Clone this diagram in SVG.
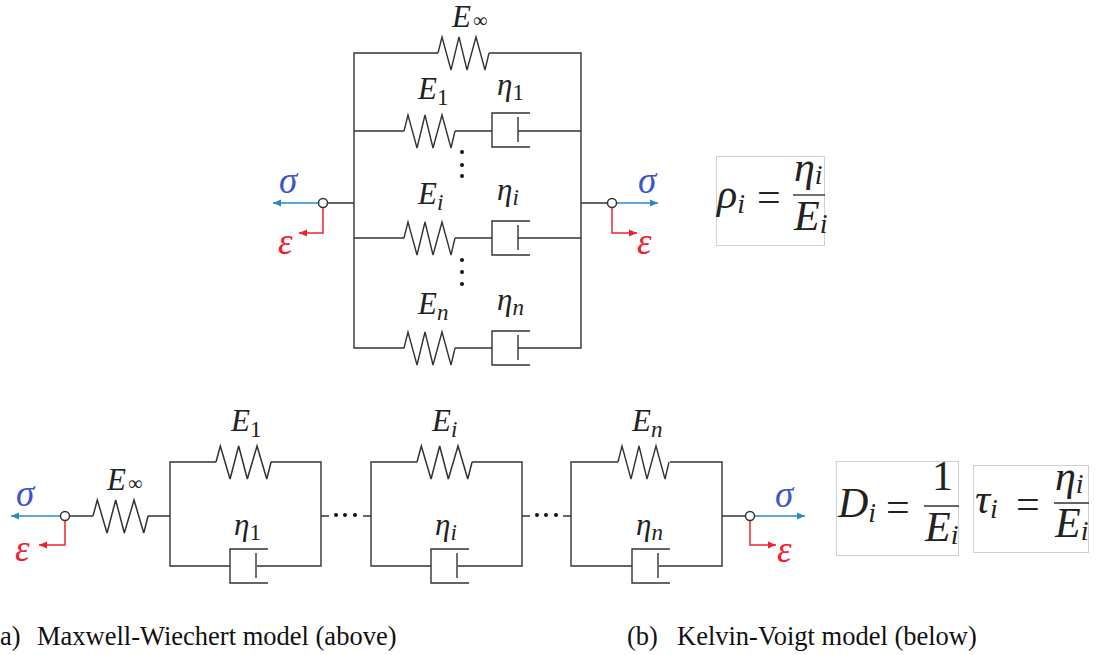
<svg xmlns="http://www.w3.org/2000/svg" width="1096" height="655" viewBox="0 0 1096 655">
<style>
text{font-family:"Liberation Serif",serif;fill:#222}
.w{fill:none;stroke:#333;stroke-width:1.4}
.l{font-style:italic;font-size:31px}
.f{font-style:italic;font-size:42px}
.fs{font-style:italic;font-size:28px}
.n{font-size:42px}
.sig{font-style:italic;font-size:37px;fill:#3d55c8}
.eps{font-style:italic;font-size:37px;fill:#f0232d}
.b{fill:none;stroke:#2b88cc;stroke-width:1.5}
.r{fill:none;stroke:#f0232d;stroke-width:1.5}
.c{fill:#fff;stroke:#333;stroke-width:1.5}
.box{fill:#fff;stroke:#d0d0d0;stroke-width:1}
.d{fill:#111}
.cap{font-size:26.5px;fill:#111}
</style>
<defs>
<polyline id="spring" class="w" points="0,0 4,-16 13,17 21,-16 29,17 38,-16 47,17 51,0"/>
<g id="dash"><path class="w" d="M38,-17H0V17H38M26,-13V12"/></g>
<marker id="ab" markerWidth="9" markerHeight="8" refX="8" refY="4" orient="auto" markerUnits="userSpaceOnUse"><path d="M0,0.5L8,4L0,7.5z" fill="#2b88cc"/></marker>
<marker id="ar" markerWidth="9" markerHeight="8" refX="8" refY="4" orient="auto" markerUnits="userSpaceOnUse"><path d="M0,0.5L8,4L0,7.5z" fill="#f0232d"/></marker>
</defs>

<g id="connectors">
<path class="w" d="M438,53H354V348H404M489,53H581V348H530M354,131H404M455,131H492M518,131H581M354,238H404M455,238H492M518,238H581M455,348H492M518,348H530M327,203H354M581,203H608"/>
<path class="w" d="M70,516H93M148,516H170M170,516V462H216M271,462H321V566H257M170,516V566H230M321,516H329M363,516H371M371,516V462H417M472,462H522V566H458M371,516V566H431M522,516H530M563,516H571M571,516V462H618M670,462H722V566H659M571,516V566H632M722,516H745"/>
<path class="b" marker-end="url(#ab)" d="M319,203H273"/>
<path class="r" marker-end="url(#ar)" d="M323,208V233H299"/>
<path class="b" marker-end="url(#ab)" d="M616,203H658"/>
<path class="r" marker-end="url(#ar)" d="M612,208V233H637"/>
<path class="b" marker-end="url(#ab)" d="M61,516H11"/>
<path class="r" marker-end="url(#ar)" d="M65,521V545H39"/>
<path class="b" marker-end="url(#ab)" d="M755,516H805"/>
<path class="r" marker-end="url(#ar)" d="M750,521V545H776"/>
</g>

<g id="spring-top-inf"><use href="#spring" transform="translate(438,53)"/><text class="l" x="452" y="27">E<tspan font-style="normal" font-size="20" dx="2">∞</tspan></text></g>
<g id="spring-top-1"><use href="#spring" transform="translate(404,131)"/><text class="l" x="418" y="99">E<tspan font-size="23" font-style="normal" dy="6">1</tspan></text></g>
<g id="dash-top-1"><use href="#dash" transform="translate(492,130)"/><text class="l" x="497" y="95">η<tspan font-size="23" font-style="normal" dy="5">1</tspan></text></g>
<g id="spring-top-i"><use href="#spring" transform="translate(404,238)"/><text class="l" x="418" y="204">E<tspan font-size="23" dy="6">i</tspan></text></g>
<g id="dash-top-i"><use href="#dash" transform="translate(492,238)"/><text class="l" x="497" y="200">η<tspan font-size="23" dy="5">i</tspan></text></g>
<g id="spring-top-n"><use href="#spring" transform="translate(404,348)"/><text class="l" x="418" y="314">E<tspan font-size="23" dy="6">n</tspan></text></g>
<g id="dash-top-n"><use href="#dash" transform="translate(492,348)"/><text class="l" x="497" y="310">η<tspan font-size="23" dy="5">n</tspan></text></g>
<g id="dots-top-1"><circle class="d" cx="462" cy="152" r="2"/><circle class="d" cx="462" cy="165" r="2"/><circle class="d" cx="462" cy="176" r="2"/></g>
<g id="dots-top-2"><circle class="d" cx="462" cy="260" r="2"/><circle class="d" cx="462" cy="272" r="2"/><circle class="d" cx="462" cy="284" r="2"/></g>
<g id="term-top-left"><circle class="c" cx="323" cy="203" r="4.5"/><text class="sig" x="279" y="193">σ</text><text class="eps" x="278" y="254">ε</text></g>
<g id="term-top-right"><circle class="c" cx="612" cy="203" r="4.5"/><text class="sig" x="638" y="193">σ</text><text class="eps" x="637" y="254">ε</text></g>

<g id="spring-bot-inf"><use href="#spring" transform="translate(93,516) scale(1.08,1)"/><text class="l" x="107" y="490">E<tspan font-style="normal" font-size="20" dx="2">∞</tspan></text></g>
<g id="spring-bot-1"><use href="#spring" transform="translate(216,462) scale(1.08,1)"/><text class="l" x="231" y="431">E<tspan font-size="23" font-style="normal" dy="6">1</tspan></text></g>
<g id="dash-bot-1"><use href="#dash" transform="translate(230,566)"/><text class="l" x="234" y="535">η<tspan font-size="23" font-style="normal" dy="5">1</tspan></text></g>
<g id="spring-bot-i"><use href="#spring" transform="translate(417,462) scale(1.08,1)"/><text class="l" x="432" y="431">E<tspan font-size="23" dy="6">i</tspan></text></g>
<g id="dash-bot-i"><use href="#dash" transform="translate(431,566)"/><text class="l" x="435" y="535">η<tspan font-size="23" dy="5">i</tspan></text></g>
<g id="spring-bot-n"><use href="#spring" transform="translate(618,462)"/><text class="l" x="632" y="431">E<tspan font-size="23" dy="6">n</tspan></text></g>
<g id="dash-bot-n"><use href="#dash" transform="translate(632,566)"/><text class="l" x="636" y="535">η<tspan font-size="23" dy="5">n</tspan></text></g>
<g id="dots-bot-1"><circle class="d" cx="336" cy="515" r="2"/><circle class="d" cx="345" cy="515" r="2"/><circle class="d" cx="355" cy="515" r="2"/></g>
<g id="dots-bot-2"><circle class="d" cx="537" cy="515" r="2"/><circle class="d" cx="546" cy="515" r="2"/><circle class="d" cx="556" cy="515" r="2"/></g>
<g id="term-bot-left"><circle class="c" cx="65" cy="516" r="4.5"/><text class="sig" x="16" y="506">σ</text><text class="eps" x="15" y="561">ε</text></g>
<g id="term-bot-right"><circle class="c" cx="750" cy="516" r="4.5"/><text class="sig" x="775" y="507">σ</text><text class="eps" x="777" y="562">ε</text></g>

<g id="formula-rho">
<rect class="box" x="716.500" y="156.500" width="108" height="89"/>
<text class="f" x="717" y="208">ρ<tspan class="fs" dy="5">i</tspan></text>
<text class="n" x="757" y="211">=</text>
<path class="w" d="M793,195H825"/>
<text class="f" x="794" y="181">η<tspan class="fs" dy="3">i</tspan></text>
<text class="f" x="794" y="230">E<tspan class="fs" dy="3">i</tspan></text>
</g>
<g id="formula-d">
<rect class="box" x="836.500" y="461.500" width="122" height="94"/>
<text class="f" x="838" y="517">D<tspan class="fs" dy="5">i</tspan></text>
<text class="n" x="886" y="521">=</text>
<path class="w" d="M924,506H959"/>
<text class="n" x="932" y="490">1</text>
<text class="f" x="925" y="541">E<tspan class="fs" dy="3">i</tspan></text>
</g>
<g id="formula-tau">
<rect class="box" x="973.500" y="465.500" width="115" height="87"/>
<text class="f" x="975" y="513">τ<tspan class="fs" dy="5">i</tspan></text>
<text class="n" x="1016" y="518">=</text>
<path class="w" d="M1054,503H1089"/>
<text class="f" x="1055" y="490">η<tspan class="fs" dy="3">i</tspan></text>
<text class="f" x="1055" y="537">E<tspan class="fs" dy="3">i</tspan></text>
</g>

<text class="cap" x="0" y="645">a)</text>
<text class="cap" x="37" y="645">Maxwell-Wiechert model (above)</text>
<text class="cap" x="627" y="645">(b)</text>
<text class="cap" x="677" y="645">Kelvin-Voigt model (below)</text>
</svg>
